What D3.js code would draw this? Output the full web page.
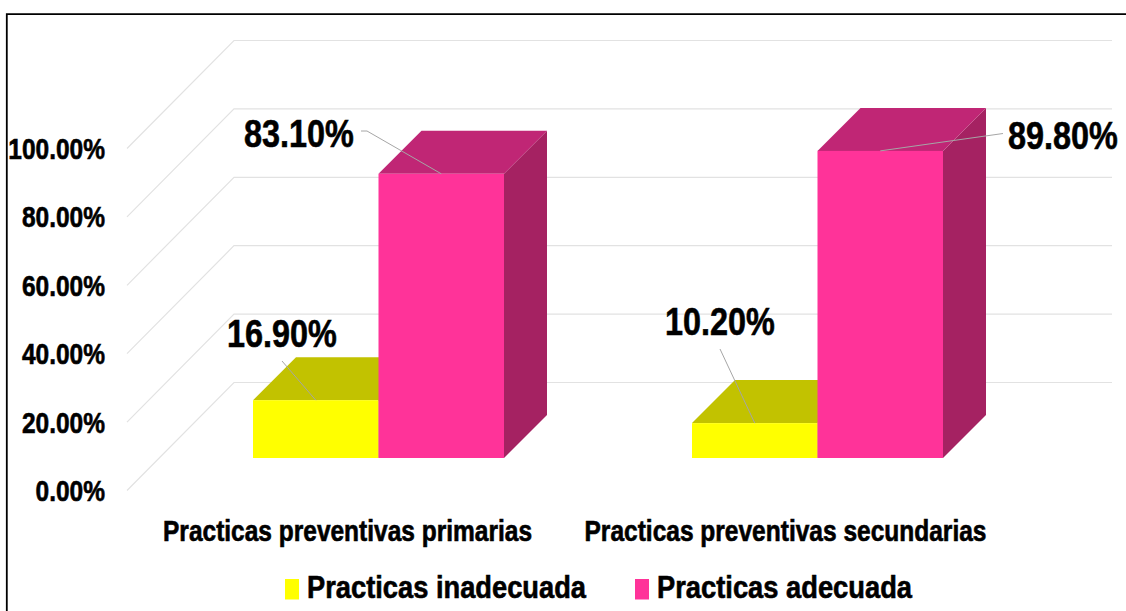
<!DOCTYPE html>
<html><head><meta charset="utf-8">
<style>html,body{margin:0;padding:0;background:#fff;overflow:hidden}svg{display:block}
text{font-family:"Liberation Sans",Arial,sans-serif;font-weight:700;fill:#000;stroke:#000;stroke-width:.5px}</style>
<script src="https://cdn.jsdelivr.net/npm/d3@7"></script></head><body>
<svg id="c" width="1126" height="611"></svg>
<script>
const categories = ["Practicas preventivas primarias", "Practicas preventivas secundarias"];
const series = ["Practicas inadecuada", "Practicas adecuada"];
const inadecuada = [16.9, 10.2];
const adecuada = [83.1, 89.8];
const yTicks = [0, 20, 40, 60, 80, 100];
const seriesFill = ["#ffff00", "#ff3399"];
const seriesTop = ["#c2c200", "#c02675"];
const seriesSide = ["#a0a000", "#a52262"];
const values = [inadecuada, adecuada];

// Layout
const wallDepth = {dx: 107, dy: 108}, barDepth = {dx: 43, dy: 43}, barOffset = {dx: 32, dy: 32.5};
const plotLeft = 127, plotWidth = 878, floorY = 490.5, plotHeight = 342, barWidth = 125.5;
// Label anchor (left x, baseline y) and leader start, per series/category
const labelPos = [[{x:227,y:347,lx:282,ly:361},{x:665,y:334.5,lx:720,ly:349}],
                  [{x:244,y:147,lx:361,ly:131},{x:1008,y:149,lx:1003,ly:133.5}]];

const svg = d3.select("#c");
const y = d3.scaleLinear().domain([0,100]).range([floorY, floorY - plotHeight]);
const xFront = d3.scaleBand().domain(categories).range([plotLeft, plotLeft + plotWidth]);
const xInner = d3.scaleBand().domain(series).range([-barWidth, barWidth]);

// frame
svg.append("path").attr("d","M6.8,611V14.2H1126").attr("fill","none").attr("stroke","#000").attr("stroke-width",1.8);

// walls
const grid = svg.append("g").attr("fill","none").attr("stroke","#e2e2e2").attr("stroke-width",1.2);
grid.selectAll("path").data(yTicks).join("path")
  .attr("d", t => { const p = d3.path(); p.moveTo(plotLeft, y(t));
    p.lineTo(plotLeft + wallDepth.dx, y(t) - wallDepth.dy);
    p.lineTo(plotLeft + plotWidth + wallDepth.dx, y(t) - wallDepth.dy); return p.toString(); });

// y axis
const axis = svg.append("g").attr("transform","translate(105,0)")
  .call(d3.axisLeft(y).tickValues(yTicks).tickSize(0).tickPadding(0).tickFormat(d => d3.format(".2f")(d) + "%"));
axis.select(".domain").remove();
axis.selectAll("text").attr("x",0).attr("dy",null).attr("text-anchor","end")
  .attr("font-size",24.5).attr("font-family",null)
  .attr("transform","translate(0,10) scale(1,1.2)");

// bars
const barsG = svg.append("g");
const pts = a => a.map(p => p.join(",")).join(" ");
categories.forEach((cat, c) => {
  const cx = xFront(cat) + xFront.bandwidth()/2 + barOffset.dx;
  series.forEach((s, i) => {
    const x0 = cx + xInner(s), x1 = x0 + xInner.bandwidth();
    const base = y(0) - barOffset.dy, top = y(values[i][c]) - barOffset.dy;
    const g = barsG.append("g");
    g.append("polygon").attr("fill",seriesSide[i]).attr("points",
      pts([[x1,top],[x1+barDepth.dx,top-barDepth.dy],[x1+barDepth.dx,base-barDepth.dy],[x1,base]]));
    g.append("polygon").attr("fill",seriesTop[i]).attr("points",
      pts([[x0,top],[x0+barDepth.dx,top-barDepth.dy],[x1+barDepth.dx,top-barDepth.dy],[x1,top]]));
    g.append("rect").attr("x",x0).attr("y",top).attr("width",x1-x0).attr("height",base-top).attr("fill",seriesFill[i]);
  });
});

// data labels with leaders
categories.forEach((cat, c) => {
  const cx = xFront(cat) + xFront.bandwidth()/2 + barOffset.dx;
  series.forEach((s, i) => {
    const lp = labelPos[i][c], v = values[i][c];
    const ex = cx + xInner(s) + xInner.bandwidth()/2, ey = y(v) - barOffset.dy;
    const mid = i === 1 && c === 0 ? [[lp.lx,lp.ly],[lp.lx+6,lp.ly]] : [[lp.lx,lp.ly]];
    svg.append("polyline").attr("fill","none").attr("stroke","#a6a6a6").attr("stroke-width",1)
      .attr("points", pts([...mid,[ex,ey]]));
    svg.append("text").attr("transform",`translate(${lp.x},${lp.y}) scale(1,1.17)`)
      .attr("font-size",32.4).text(d3.format(".2f")(v) + "%");
  });
});

// category labels
const catW = [369, 402];
const catShift = [1, 0];
svg.selectAll("text.cat").data(categories).join("text").attr("class","cat")
  .attr("transform", (d,i) => `translate(${xFront(d)+xFront.bandwidth()/2+catShift[i]},541) scale(1,1.25)`)
  .attr("text-anchor","middle").attr("font-size",23)
  .attr("textLength",(d,i)=>catW[i]).attr("lengthAdjust","spacingAndGlyphs").text(d => d);

// legend
const legX = [285, 635], legW = [279, 255];
const leg = svg.selectAll("g.leg").data(series).join("g").attr("class","leg")
  .attr("transform",(d,i)=>`translate(${legX[i]},0)`);
leg.append("rect").attr("y",579).attr("width",14).attr("height",20.5).attr("fill",(d,i)=>seriesFill[i]);
leg.append("text").attr("transform","translate(22,597.5) scale(1,1.2)")
  .attr("font-size",25.5).attr("textLength",(d,i)=>legW[i]).attr("lengthAdjust","spacingAndGlyphs").text(d=>d);
</script></body></html>
